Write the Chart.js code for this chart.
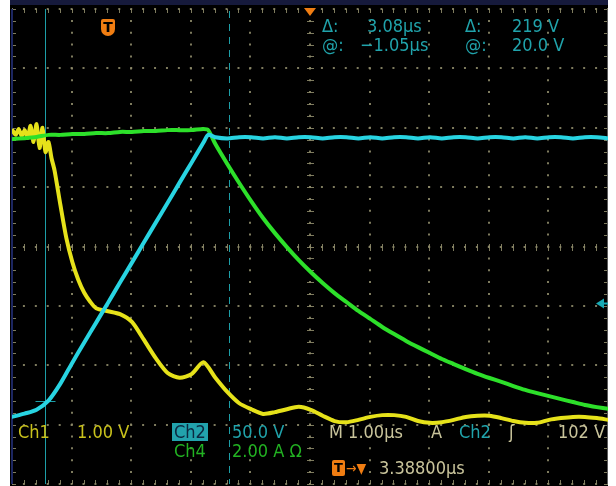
<!DOCTYPE html>
<html>
<head>
<meta charset="utf-8">
<script src="https://cdn.jsdelivr.net/npm/chart.js@4.4.1/dist/chart.umd.min.js"></script>
<style>
html, body { margin: 0; padding: 0; background: #fff; }
#scope { position: absolute; left: 10px; top: 0; width: 598px; height: 486px; background: #000; overflow: hidden; }
#topbar { position: absolute; left: 0; top: 0; width: 598px; height: 5px; background: #161a3c; }
#wrap { position: absolute; left: 0; top: 0; width: 598px; height: 486px; }
.t { position: absolute; font-family: "DejaVu Sans", sans-serif; font-stretch: condensed; font-size: 18px; line-height: 18px; white-space: pre; }
.teal { color: #20a3ab; }
.beige { color: #c9c49b; }
.yel { color: #c9c21c; }
.grn { color: #22b222; }
.org { color: #f07d12; }
.boxed { background: #22a2ac; color: #0c2840; padding: 0 2px; }
.ticon { position: absolute; width: 14px; height: 17px; background: #f07d12; color: #000; border-radius: 2px 2px 7px 7px;
         font: bold 14px "DejaVu Sans", sans-serif; line-height: 17px; text-align: center; }
</style>
</head>
<body>
<div id="scope">
  <div id="topbar"></div>
  <div id="wrap"><canvas id="scopeChart"></canvas></div>

  <div class="t teal" style="left:312px;top:17px">Δ:</div>
  <div class="t teal" style="left:357px;top:17px">3.08µs</div>
  <div class="t teal" style="left:455px;top:17px">Δ:</div>
  <div class="t teal" style="left:502px;top:17px">219 V</div>
  <div class="t teal" style="left:312px;top:36px">@:</div>
  <div class="t teal" style="left:350px;top:36px">−1.05µs</div>
  <div class="t teal" style="left:455px;top:36px">@:</div>
  <div class="t teal" style="left:502px;top:36px">20.0 V</div>

  <div class="t yel" style="left:8px;top:423px">Ch1</div>
  <div class="t yel" style="left:67px;top:423px">1.00 V</div>
  <div class="t boxed" style="left:162px;top:423px">Ch2</div>
  <div class="t teal" style="left:222px;top:423px">50.0 V</div>
  <div class="t grn" style="left:164px;top:442px">Ch4</div>
  <div class="t grn" style="left:222px;top:442px">2.00 A Ω</div>
  <div class="t beige" style="left:319px;top:423px">M 1.00µs</div>
  <div class="t beige" style="left:421px;top:423px">A</div>
  <div class="t teal" style="left:449px;top:423px">Ch2</div>
  <div class="t beige" style="left:499px;top:423px">ʃ</div>
  <div class="t beige" style="left:548px;top:423px">102 V</div>

  <div class="ticon" style="left:322px;top:460px;width:13px;height:16px;line-height:16px;font-size:13px;border-radius:2px">T</div>
  <div class="t org" style="left:336px;top:459px;font-size:14px">→▼</div>
  <div class="t beige" style="left:369px;top:459px">3.38800µs</div>

  <div id="trigIcon" class="ticon" style="left:91px;top:19px">T</div>
</div>

<script>
// horizontal: 1.00 µs/div, centre of screen sits 3.388 µs after the trigger
const centreTime = 3.388;
const xMin = centreTime - 5;
const xMax = centreTime + 5;

const timeUs = [-1.6, -1.4, -1.2, -1.0, -0.8, -0.6, -0.4, -0.2, 0, 0.2, 0.4, 0.6, 0.8, 1.0, 1.2, 1.4, 1.6, 1.68,
  1.8, 2.0, 2.2, 2.4, 2.6, 2.8, 3.0, 3.2, 3.4, 3.6, 3.8, 4.0, 4.2, 4.4, 4.6, 4.8, 5.0, 5.2, 5.4, 5.6, 5.8, 6.0,
  6.2, 6.4, 6.6, 6.8, 7.0, 7.2, 7.4, 7.6, 7.8, 8.0, 8.2, 8.4];

// Ch2 (cyan), volts
const ch2Volts = [6.7, 9.3, 12.6, 20.2, 34.5, 52.2, 69.1, 85.9, 102.7, 119.6, 136.4, 153.3, 170.1, 186.9, 203.8, 220.6, 237.5, 244,
  242, 241, 242, 242, 241, 242, 241, 242, 242, 241, 242, 242, 241, 242, 241, 242, 242, 241, 242, 241, 242, 242,
  241, 242, 242, 241, 242, 241, 242, 242, 241, 242, 242, 241];

// Ch4 (green), amps
const ch4Amps = [11.62, 11.65, 11.69, 11.76, 11.76, 11.79, 11.79, 11.82, 11.82, 11.86, 11.86, 11.89, 11.89, 11.92, 11.92, 11.92, 11.96, 11.92,
  11.45, 10.78, 10.14, 9.53, 8.96, 8.45, 7.98, 7.54, 7.14, 6.77, 6.43, 6.13, 5.83, 5.56, 5.29, 5.05, 4.82, 4.61, 4.41, 4.21, 4.04, 3.87,
  3.71, 3.57, 3.44, 3.30, 3.17, 3.06, 2.96, 2.86, 2.76, 2.66, 2.59, 2.53];

// Ch1 (yellow) is sampled finer at the start, where it rings
const ch1Time = [-1.6, -1.55, -1.5, -1.45, -1.4, -1.35, -1.3, -1.25, -1.2, -1.15, -1.1, -1.05, -1.0, -0.95, -0.9, -0.8, -0.7, -0.6, -0.5, -0.4, -0.3, -0.2,
  0, 0.2, 0.4, 0.6, 0.8, 1.0, 1.2, 1.4, 1.6, 1.8, 2.0, 2.2, 2.4, 2.6, 2.8, 3.0, 3.2, 3.4, 3.6, 3.8, 4.0,
  4.2, 4.4, 4.6, 4.8, 5.0, 5.2, 5.4, 5.6, 5.8, 6.0, 6.2, 6.4, 6.6, 6.8, 7.0, 7.2, 7.4, 7.6, 7.8, 8.0, 8.2, 8.4];
const ch1Volts = [5.95, 5.88, 5.98, 5.86, 5.96, 5.83, 6.03, 5.76, 6.06, 5.66, 6.00, 5.59, 5.76, 5.49, 5.29, 4.70, 4.14, 3.74, 3.44, 3.22, 3.07, 2.96,
  2.91, 2.86, 2.73, 2.43, 2.12, 1.87, 1.79, 1.85, 2.05, 1.79, 1.55, 1.36, 1.26, 1.18, 1.21, 1.26, 1.30, 1.25, 1.15, 1.06, 1.04,
  1.08, 1.13, 1.16, 1.16, 1.13, 1.06, 1.03, 1.04, 1.08, 1.13, 1.15, 1.15, 1.11, 1.06, 1.03, 1.03, 1.08, 1.11, 1.13, 1.13, 1.11, 1.08];

// cursors and trigger
const cursorTimes = [-1.05, 2.03];
const cursorCh2Volts = 20.0;
const triggerLevel = 102;

const gridColour = "rgba(140,136,104,0.9)";
const teal = "#1d9ea7";

const pts = (xs, ys) => xs.map((x, i) => ({ x: x, y: ys[i] }));

const scopeMarks = {
  id: "scopeMarks",
  beforeDatasetsDraw(chart) {
    const { ctx, chartArea: a, scales } = chart;
    const x = scales.x, y = scales.y2;
    const cx = Math.round(x.getPixelForValue(centreTime)), cy = Math.round(y.getPixelForValue(150));
    ctx.save();
    ctx.fillStyle = gridColour;
    // small cross ticks on the centre lines and the edges
    for (let k = 0; k <= 50; k++) {
      const px = Math.round(x.getPixelForValue(xMin + k * 0.2));
      ctx.fillRect(px, cy - 3, 1, 7);
      ctx.fillRect(px, a.top, 1, 4);
      ctx.fillRect(px, a.bottom - 4, 1, 4);
    }
    for (let k = 0; k <= 40; k++) {
      const py = Math.round(y.getPixelForValue(-50 + k * 10));
      ctx.fillRect(cx - 3, py, 7, 1);
      ctx.fillRect(a.left, py, 4, 1);
      ctx.fillRect(a.right - 4, py, 4, 1);
    }
    ctx.fillStyle = "#1c2660";
    ctx.fillRect(a.left - 1, a.top, 2, a.bottom - a.top);
    ctx.fillStyle = "#5a5a5a";
    ctx.fillRect(a.right - 1, a.top, 1, a.bottom - a.top);

    // cursors
    ctx.strokeStyle = teal;
    ctx.lineWidth = 1;
    const c1 = Math.round(x.getPixelForValue(cursorTimes[0])) + 0.5;
    const c2 = Math.round(x.getPixelForValue(cursorTimes[1])) + 0.5;
    ctx.beginPath(); ctx.moveTo(c1, a.top); ctx.lineTo(c1, a.bottom); ctx.stroke();
    ctx.setLineDash([7, 6]);
    ctx.beginPath(); ctx.moveTo(c2, a.top + 2); ctx.lineTo(c2, a.bottom); ctx.stroke();
    ctx.setLineDash([]);
    const cyv = Math.round(y.getPixelForValue(cursorCh2Volts)) + 0.5;
    ctx.beginPath(); ctx.moveTo(c1 - 10, cyv); ctx.lineTo(c1 + 10, cyv); ctx.stroke();
    ctx.restore();
  },
  afterDatasetsDraw(chart) {
    const { ctx, chartArea: a, scales } = chart;
    const cx = scales.x.getPixelForValue(centreTime);
    ctx.save();
    ctx.fillStyle = "#f07d12";
    ctx.beginPath();
    ctx.moveTo(cx - 6, a.top - 1); ctx.lineTo(cx + 6, a.top - 1); ctx.lineTo(cx, a.top + 7);
    ctx.closePath(); ctx.fill();
    // trigger level arrow on the right edge
    const ty = scales.y2.getPixelForValue(triggerLevel);
    ctx.fillStyle = "#19aab4";
    ctx.beginPath();
    ctx.moveTo(a.right - 12, ty); ctx.lineTo(a.right - 4, ty - 5); ctx.lineTo(a.right - 4, ty + 5);
    ctx.closePath(); ctx.fill();
    ctx.fillRect(a.right - 5, ty - 1, 5, 2);
    ctx.restore();
  }
};

const chart = new Chart(document.getElementById("scopeChart"), {
  type: "line",
  data: {
    datasets: [
      { label: "Ch2", data: pts(timeUs, ch2Volts), yAxisID: "y2", borderColor: "#28d4e2", borderWidth: 4, order: 1 },
      { label: "Ch4", data: pts(timeUs, ch4Amps), yAxisID: "y4", borderColor: "#2de02a", borderWidth: 4, order: 2 },
      { label: "Ch1", data: pts(ch1Time, ch1Volts), yAxisID: "y1", borderColor: "#e6e21a", borderWidth: 4, order: 3 }
    ]
  },
  options: {
    responsive: true,
    maintainAspectRatio: false,
    animation: false,
    layout: { padding: { left: 2, right: 0, top: 9, bottom: 2 } },
    elements: { point: { radius: 0 }, line: { tension: 0.25, borderCapStyle: "round", borderJoinStyle: "round" } },
    plugins: { legend: { display: false }, tooltip: { enabled: false } },
    scales: {
      x: {
        type: "linear", min: xMin, max: xMax,
        afterBuildTicks: s => { s.ticks = [0, 1, 2, 3, 4, 5, 6, 7, 8, 9, 10].map(k => ({ value: xMin + k })); },
        afterFit: s => { s.height = 0; },
        ticks: { display: false },
        grid: { color: gridColour, lineWidth: 2, drawTicks: false },
        border: { display: false, dash: [2, 9.875], dashOffset: 1 }
      },
      y2: {
        position: "left", min: -50, max: 350,
        afterFit: s => { s.width = 0; },
        ticks: { display: false, stepSize: 50 },
        grid: { color: gridColour, lineWidth: 2, drawTicks: false },
        border: { display: false, dash: [2, 9.92], dashOffset: 1 }
      },
      y1: { display: false, min: 0, max: 8 },
      y4: { display: false, min: 0, max: 16 }
    }
  },
  plugins: [scopeMarks]
});

// orange trigger icon sits at t = 0
document.getElementById("trigIcon").style.left = (chart.scales.x.getPixelForValue(0) - 7) + "px";
</script>
</body>
</html>
